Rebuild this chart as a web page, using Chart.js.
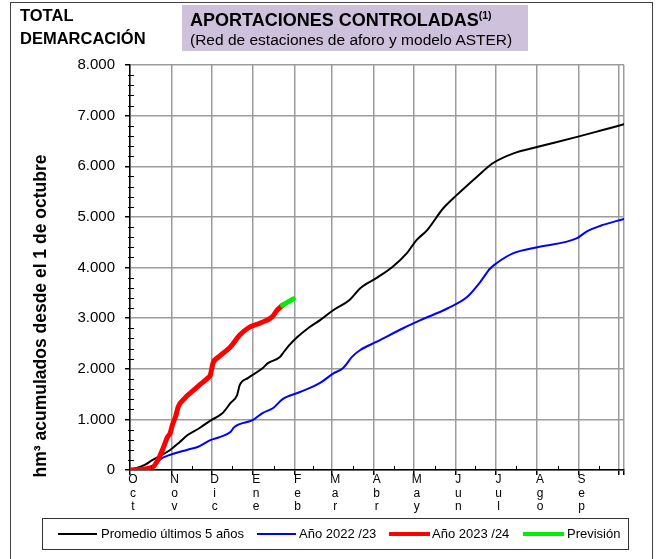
<!DOCTYPE html>
<html lang="es">
<head>
<meta charset="utf-8">
<script src="https://cdn.jsdelivr.net/npm/chart.js@4.4.0/dist/chart.umd.min.js"></script>
<style>
body { margin: 0; background: #fff; font-family: "Liberation Sans", Arial, sans-serif; color: #000; }
#wrap { position: relative; width: 660px; height: 559px; overflow: hidden; }
#marco { position: absolute; left: 10px; top: 2px; width: 641px; height: 620px; border: 1.5px solid #404040; }
#grafico { position: absolute; left: 0; top: 0; }
.demarc { position: absolute; left: 20px; font-weight: bold; font-size: 16.5px; }
#titulo { position: absolute; left: 182px; top: 5px; width: 346px; height: 46px; background: #cdc1dc; }
#titulo .t1 { position: absolute; left: 8px; top: 4px; font-weight: bold; font-size: 18px; white-space: nowrap; }
#titulo .t1 sup { font-size: 10.5px; vertical-align: 7px; }
#titulo .t2 { position: absolute; left: 8px; top: 26px; font-size: 15.5px; white-space: nowrap; }
#ytitulo { position: absolute; left: -140px; top: 306px; width: 360px; height: 20px; line-height: 20px;
  text-align: center; font-weight: bold; font-size: 17.5px; transform: rotate(-90deg); white-space: nowrap; }
#leyenda { position: absolute; left: 42px; top: 518px; width: 585px; height: 30px; border: 1px solid #333; }
#leyenda .l { position: absolute; top: 14px; height: 0; }
#leyenda .x { position: absolute; top: 7px; font-size: 13px; white-space: nowrap; }
</style>
</head>
<body>
<div id="wrap">
  <div id="marco"></div>
  <canvas id="grafico" width="660" height="559"></canvas>
  <div class="demarc" style="top:6px">TOTAL</div>
  <div class="demarc" style="top:29px">DEMARCACIÓN</div>
  <div id="titulo">
    <div class="t1">APORTACIONES CONTROLADAS<sup>(1)</sup></div>
    <div class="t2">(Red de estaciones de aforo y modelo ASTER)</div>
  </div>
  <div id="ytitulo">hm³ acumulados desde el 1 de octubre</div>
  <div id="leyenda">
    <div class="l" style="left:15px;width:39px;border-top:2px solid #000"></div>
    <div class="x" style="left:58px">Promedio últimos 5 años</div>
    <div class="l" style="left:214px;width:39px;border-top:2px solid #0000ff"></div>
    <div class="x" style="left:256px">Año 2022 /23</div>
    <div class="l" style="left:346px;width:41px;border-top:4px solid #ff0000;top:13px"></div>
    <div class="x" style="left:389px">Año 2023 /24</div>
    <div class="l" style="left:480px;width:41px;border-top:4px solid #00ee00;top:13px"></div>
    <div class="x" style="left:524px">Previsión</div>
  </div>
</div>
<script>
// meses del año hidrológico (desde el 1 de octubre)
const meses = ['Oct', 'Nov', 'Dic', 'Ene', 'Feb', 'Mar', 'Abr', 'May', 'Jun', 'Jul', 'Ago', 'Sep'];
const inicioMes = [0, 31, 61, 92, 123, 151, 182, 212, 243, 273, 304, 335, 365];
const finEje = 369;

const valoresY = [0, 1000, 2000, 3000, 4000, 5000, 6000, 7000, 8000];

// Promedio últimos 5 años
const diasPromedio = [0, 11, 17, 30, 37, 43, 52, 61, 69, 75, 80, 82, 88, 99, 103, 112, 114, 119, 125, 134, 142,
  152, 164, 172, 184, 196, 207, 214, 222, 234, 244, 259, 271, 287, 304, 334, 351, 369];
const promedio = [0, 100, 200, 395, 550, 690, 830, 990, 1120, 1320, 1480, 1680, 1815, 2010, 2110, 2230, 2300, 2465, 2625, 2820, 2960,
  3160, 3360, 3590, 3790, 4010, 4290, 4540, 4740, 5170, 5430, 5790, 6060, 6260, 6380, 6580, 6700, 6830];

// Año 2022/23
const dias2223 = [0, 17, 22, 30, 43, 51, 60, 67, 75, 78, 92, 99, 107, 114, 127, 142, 152, 159, 166, 172, 184,
  204, 217, 237, 252, 261, 269, 274, 286, 306, 334, 341, 351, 369];
const anio2223 = [0, 40, 200, 300, 400, 460, 590, 650, 750, 850, 990, 1125, 1225, 1400, 1540, 1720, 1910, 2010, 2240, 2370, 2530,
  2800, 2960, 3190, 3420, 3690, 3980, 4090, 4280, 4410, 4580, 4710, 4820, 4960];

// Año 2023/24
const dias2324 = [0, 17, 22, 25, 28, 30, 32, 34, 36, 41, 45, 52, 58, 60, 62, 66, 75, 82, 88, 97, 106, 110, 114];
const anio2324 = [0, 60, 260, 450, 650, 730, 920, 1050, 1245, 1420, 1520, 1680, 1815, 1875, 2110, 2230, 2430, 2665, 2800, 2900, 3020, 3160, 3255];

// Previsión
const diasPrevision = [114, 122];
const prevision = [3255, 3380];

function puntos(xs, ys) {
  return xs.map((d, i) => ({ x: d, y: ys[i] }));
}

function miles(v) {
  return String(v).replace(/\B(?=(\d{3})+(?!\d))/g, '.');
}

const gris = '#9c9c9c';

// marcas menores (medio mes y cada 200 hm3)
const marcasMenores = {
  id: 'marcasMenores',
  afterDatasetsDraw(chart) {
    const c = chart.ctx, x = chart.scales.x, y = chart.scales.y;
    c.save();
    c.strokeStyle = '#000';
    c.lineWidth = 1;
    c.beginPath();
    for (let i = 0; i < 12; i++) {
      const px = Math.round(x.getPixelForValue((inicioMes[i] + inicioMes[i + 1]) / 2)) + 0.5;
      c.moveTo(px, y.bottom);
      c.lineTo(px, y.bottom - 4);
    }
    for (let v = 200; v < 8000; v += 200) {
      if (v % 1000 === 0) continue;
      const py = Math.round(y.getPixelForValue(v)) + 0.5;
      c.moveTo(x.left - 2, py);
      c.lineTo(x.left + 4, py);
    }
    c.stroke();
    c.restore();
  }
};

const ctx = document.getElementById('grafico').getContext('2d');

const chart = new Chart(ctx, {
  type: 'line',
  data: {
    datasets: [
      { label: 'Previsión', data: puntos(diasPrevision, prevision), borderColor: '#00ee00', borderWidth: 5, order: 0 },
      { label: 'Año 2023 /24', data: puntos(dias2324, anio2324), borderColor: '#ff0000', borderWidth: 5, order: 1 },
      { label: 'Promedio últimos 5 años', data: puntos(diasPromedio, promedio), borderColor: '#000000', borderWidth: 2, order: 2 },
      { label: 'Año 2022 /23', data: puntos(dias2223, anio2223), borderColor: '#0000ff', borderWidth: 2, order: 3 }
    ]
  },
  options: {
    responsive: false,
    animation: false,
    elements: {
      point: { radius: 0 },
      line: { cubicInterpolationMode: 'monotone', borderCapStyle: 'round', borderJoinStyle: 'round' }
    },
    layout: { padding: { left: 0, top: 65, right: 36, bottom: 29 } },
    plugins: {
      legend: { display: false },
      tooltip: { enabled: false }
    },
    scales: {
      x: {
        type: 'linear',
        min: 0,
        max: finEje,
        afterBuildTicks: (s) => { s.ticks = inicioMes.concat([finEje]).map(v => ({ value: v })); },
        afterFit: (s) => { s.height = 60; },
        ticks: {
          autoSkip: false,
          maxRotation: 0,
          padding: -2,
          labelOffset: 3,
          color: '#000',
          font: { family: 'Liberation Sans, Arial', size: 12, lineHeight: 1.13 },
          callback: (v, i) => (i < meses.length ? meses[i].split('') : '')
        },
        grid: { color: gris, lineWidth: 1.5, tickColor: '#000', tickLength: 5 },
        border: { color: '#000', width: 1.5 }
      },
      y: {
        min: 0,
        max: 8000,
        afterBuildTicks: (s) => { s.ticks = valoresY.map(v => ({ value: v })); },
        afterFit: (s) => { s.width = 130; },
        ticks: {
          autoSkip: false,
          padding: 10,
          color: '#000',
          font: { family: 'Liberation Sans, Arial', size: 15 },
          callback: (v) => miles(v)
        },
        grid: { color: gris, lineWidth: 1.5, tickColor: '#000', tickLength: 5 },
        border: { color: '#000', width: 1.5 }
      }
    }
  },
  plugins: [marcasMenores]
});
</script>
</body>
</html>
